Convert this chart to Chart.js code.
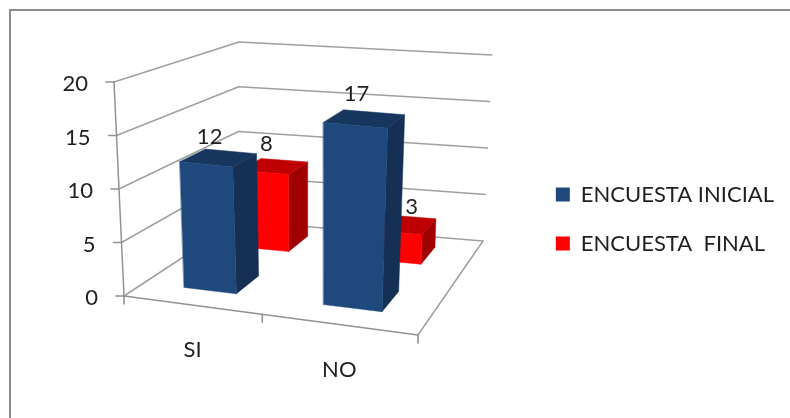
<!DOCTYPE html>
<html>
<head>
<meta charset="utf-8">
<script src="https://cdn.jsdelivr.net/npm/chart.js@4"></script>
<style>
  html, body { margin: 0; padding: 0; background: #fff; }
  canvas { display: block; }
</style>
</head>
<body>
<canvas id="survey" width="790" height="418"></canvas>
<script>
// Survey answers, one value per category
const categories = ['SI', 'NO'];
const encuestaInicial = [12, 17];
const encuestaFinal = [8, 3];
const seriesNames = ['ENCUESTA INICIAL', 'ENCUESTA  FINAL'];
const yTicks = [0, 5, 10, 15, 20];

const FONT = 'Lato, "Open Sans", sans-serif';
const TEXT = '#1f1f1f';
const FRAME = '#8c8c8c';
const GRID = '#a0a0a0';
const AXIS = '#929292';

// Corners of the 3D plot box as seen on screen: [front-left, front-right, back-right, back-left]
const FLOOR = [[124, 296], [418, 335], [483, 241], [238, 221]];
const CEILING = [[114, 82], [432, 112], [492, 55], [239, 42]];

// Solves the plane homography that carries the unit square onto four screen corners
function homography(c) {
  const [[x0, y0], [x1, y1], [x2, y2], [x3, y3]] = c;
  const dx1 = x1 - x2, dx2 = x3 - x2, sx = x0 - x1 + x2 - x3;
  const dy1 = y1 - y2, dy2 = y3 - y2, sy = y0 - y1 + y2 - y3;
  const det = dx1 * dy2 - dx2 * dy1;
  const g = (sx * dy2 - dx2 * sy) / det;
  const h = (dx1 * sy - sx * dy1) / det;
  const a = x1 - x0 + g * x1, b = x3 - x0 + h * x3;
  const d = y1 - y0 + g * y1, e = y3 - y0 + h * y3;
  return (u, v) => {
    const w = g * u + h * v + 1;
    return [(a * u + b * v + x0) / w, (d * u + e * v + y0) / w];
  };
}
const floorMap = homography(FLOOR);
const ceilingMap = homography(CEILING);

// u runs along the categories, v into the depth, z up the value axis (all 0..1)
function project(u, v, z) {
  const uu = u + 0.045 * u * (1 - u);
  const p = floorMap(uu, v), q = ceilingMap(uu, v);
  return [p[0] + (q[0] - p[0]) * z, p[1] + (q[1] - p[1]) * z];
}

const BAR_HALF = 0.097;                     // half a column along the category axis
const SERIES_DEPTH = [[0.15, 0.35], [0.655, 0.87]]; // each series stands on its own row
const FACE = [
  { front: '#1f497d', top: '#17365d', side: '#152f55' },
  { front: '#ff0000', top: '#c00000', side: '#a00000' }
];
// Value label offsets from the middle of a column's top, per series and category
const LABEL_SHIFT = [[[-9, -21], [-8, -25]], [[-8, -22], [9, -17]]];

function poly(ctx, pts, fill) {
  ctx.beginPath();
  pts.forEach((p, i) => (i ? ctx.lineTo(p[0], p[1]) : ctx.moveTo(p[0], p[1])));
  ctx.closePath();
  ctx.fillStyle = fill;
  ctx.fill();
  ctx.strokeStyle = fill;
  ctx.lineWidth = 0.5;
  ctx.stroke();
}

function line(ctx, a, b, color, width) {
  ctx.beginPath();
  ctx.moveTo(a[0], a[1]);
  ctx.lineTo(b[0], b[1]);
  ctx.strokeStyle = color;
  ctx.lineWidth = width;
  ctx.stroke();
}

const box3d = {
  id: 'box3d',
  beforeDraw(chart) {
    const ctx = chart.ctx;
    ctx.save();
    ctx.strokeStyle = FRAME;
    ctx.lineWidth = 2;
    ctx.beginPath();
    ctx.moveTo(10, 418);
    ctx.lineTo(10, 10);
    ctx.lineTo(790, 10);
    ctx.stroke();
    ctx.restore();
  },
  // Columns and walls are painted here in perspective, replacing the flat bars
  beforeDatasetsDraw(chart) {
    const { ctx, chartArea: area, scales } = chart;
    const xs = scales.x, ys = scales.y;
    const uOf = i => (xs.getPixelForValue(i) - area.left) / (area.right - area.left);
    const zOf = val => (area.bottom - ys.getPixelForValue(val)) / (area.bottom - area.top);

    ctx.save();
    ctx.lineCap = 'round';
    ctx.lineJoin = 'round';

    // Wall gridlines and value axis ticks
    ctx.font = '22px ' + FONT;
    ctx.textAlign = 'right';
    ctx.textBaseline = 'middle';
    ys.ticks.forEach(t => {
      const z = zOf(t.value);
      const fl = project(0, 0, z), bl = project(0, 1, z), br = project(1, 1, z);
      line(ctx, fl, bl, GRID, 1.5);
      line(ctx, bl, br, GRID, 1.5);
      line(ctx, [fl[0] - 8, fl[1]], fl, AXIS, 1.6);
      ctx.fillStyle = TEXT;
      ctx.fillText(String(t.value), fl[0] - 26, fl[1] + 2);
    });

    // Floor edges and axis lines
    line(ctx, project(0, 0, 0), project(0, 0, 1), AXIS, 1.5);
    line(ctx, project(0, 0, 0), project(1, 0, 0), AXIS, 1.7);
    line(ctx, project(1, 0, 0), project(1, 1, 0), GRID, 1.5);
    [0, 0.5, 1].forEach(u => {
      const p = project(u, 0, 0);
      line(ctx, p, [p[0], p[1] + 8], AXIS, 1.6);
    });

    // Category names
    ctx.textAlign = 'center';
    xs.getLabels().forEach((name, i) => {
      const p = project(uOf(i), 0, 0);
      ctx.fillStyle = TEXT;
      ctx.fillText(name, p[0] + 1.5, p[1] + 45.5);
    });

    // Rear series first so the nearer columns cover it
    const labels = [];
    for (let s = chart.data.datasets.length - 1; s >= 0; s--) {
      const [v0, v1] = SERIES_DEPTH[s];
      const colors = FACE[s];
      chart.data.datasets[s].data.forEach((val, i) => {
        const u = uOf(i), z = zOf(val);
        const u0 = u - BAR_HALF, u1 = u + BAR_HALF;
        const f0 = project(u0, v0, 0), f1 = project(u1, v0, 0);
        const b1 = project(u1, v1, 0);
        const t0 = project(u0, v0, z), t1 = project(u1, v0, z);
        const t2 = project(u1, v1, z), t3 = project(u0, v1, z);
        poly(ctx, [f1, b1, t2, t1], colors.side);
        poly(ctx, [t0, t1, t2, t3], colors.top);
        poly(ctx, [f0, f1, t1, t0], colors.front);
        const c = project(u, (v0 + v1) / 2, z);
        const shift = LABEL_SHIFT[s][i];
        labels.push([String(val), c[0] + shift[0], c[1] + shift[1]]);
      });
    }

    // Value labels stay on top of every column
    ctx.fillStyle = TEXT;
    labels.forEach(l => ctx.fillText(l[0], l[1], l[2]));
    ctx.restore();
    return false;
  }
};

new Chart(document.getElementById('survey'), {
  type: 'bar',
  data: {
    labels: categories,
    datasets: [
      { label: seriesNames[0], data: encuestaInicial, backgroundColor: FACE[0].front, borderWidth: 0 },
      { label: seriesNames[1], data: encuestaFinal, backgroundColor: FACE[1].front, borderWidth: 0 }
    ]
  },
  plugins: [box3d],
  options: {
    responsive: false,
    animation: false,
    layout: { padding: { left: 20, right: 6, top: 20, bottom: 0 } },
    scales: {
      x: { type: 'category', ticks: { display: false }, grid: { display: false }, border: { display: false } },
      y: {
        min: yTicks[0],
        max: yTicks[yTicks.length - 1],
        ticks: { display: false, stepSize: yTicks[1] - yTicks[0] },
        grid: { display: false },
        border: { display: false }
      }
    },
    plugins: {
      tooltip: { enabled: false },
      legend: {
        position: 'right',
        maxWidth: 300,
        labels: {
          boxWidth: 14,
          boxHeight: 14,
          padding: 27,
          color: TEXT,
          font: { family: FONT, size: 22 }
        }
      }
    }
  }
});
</script>
</body>
</html>
